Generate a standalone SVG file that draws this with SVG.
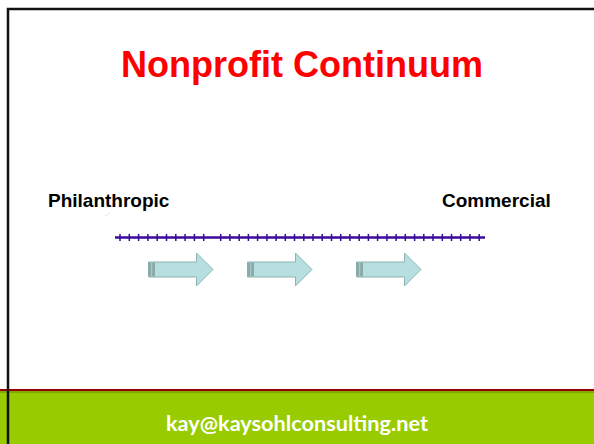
<svg xmlns="http://www.w3.org/2000/svg" width="594" height="444" viewBox="0 0 594 444">
  <style>
    .title { font-family: "Liberation Sans", Arial, sans-serif; font-weight: bold; font-size: 36px; fill: #ff0000; }
    .end { font-family: "Liberation Sans", Arial, sans-serif; font-weight: bold; font-size: 19px; fill: #000000; }
    .footer { font-family: Lato, "Open Sans", sans-serif; font-weight: bold; font-size: 21px; fill: #ffffff; }
    .step { fill: #b8dfe0; stroke: #8fb2b2; stroke-width: 1; }
    .stepTail { fill: #8aa9a9; }
    .tick { stroke: #3a0a9a; stroke-width: 1.5; }
  </style>
  <defs>
    <!-- block arrow pointing right, origin at the left end of the shaft centre -->
    <g id="blockArrow">
      <path class="step" d="M0.5,-7.5 H48.5 V-16.5 L65,0 L48.5,16.5 V7.5 H0.5 Z"/>
      <rect class="stepTail" x="0.5" y="-7" width="6.5" height="14"/>
      <rect x="3" y="-7" width="1.2" height="14" fill="#a9c6c6"/>
    </g>
  </defs>

  <rect width="594" height="444" fill="#ffffff"/>

  <!-- footer band -->
  <rect x="0" y="389" width="594" height="55" fill="#99cc00"/>
  <rect x="0" y="389" width="594" height="2" fill="#9a0000"/>
  <rect x="0" y="391" width="594" height="2" fill="#7faa00"/>

  <!-- frame -->
  <path d="M8,444 V9 H594" fill="none" stroke="#111111" stroke-width="2.5"/>

  <g id="title">
    <text class="title" x="302" y="77" text-anchor="middle">Nonprofit Continuum</text>
  </g>

  <g id="philanthropic">
    <text class="end" x="48" y="207">Philanthropic</text>
  </g>
  <g id="commercial">
    <text class="end" x="442" y="207">Commercial</text>
  </g>

  <line x1="105" y1="216" x2="110" y2="213" stroke="#cde8ee" stroke-width="0.8"/>

  <g id="connectors">
    <!-- continuum scale -->
    <line x1="115" y1="237.5" x2="485" y2="237.5" stroke="#3a0a9a" stroke-width="2.5"/>
    <g id="ticks">
      <line class="tick" x1="120" y1="234" x2="120" y2="241"/>
      <line class="tick" x1="129.3" y1="234" x2="129.3" y2="241"/>
      <line class="tick" x1="138.6" y1="234" x2="138.6" y2="241"/>
      <line class="tick" x1="147.9" y1="234" x2="147.9" y2="241"/>
      <line class="tick" x1="157.2" y1="234" x2="157.2" y2="241"/>
      <line class="tick" x1="166.5" y1="234" x2="166.5" y2="241"/>
      <line class="tick" x1="175.8" y1="234" x2="175.8" y2="241"/>
      <line class="tick" x1="185.1" y1="234" x2="185.1" y2="241"/>
      <line class="tick" x1="194.4" y1="234" x2="194.4" y2="241"/>
      <line class="tick" x1="203.7" y1="234" x2="203.7" y2="241"/>
      <line class="tick" x1="220.7" y1="234" x2="220.7" y2="241"/>
      <line class="tick" x1="229.9" y1="234" x2="229.9" y2="241"/>
      <line class="tick" x1="239.2" y1="234" x2="239.2" y2="241"/>
      <line class="tick" x1="248.4" y1="234" x2="248.4" y2="241"/>
      <line class="tick" x1="257.6" y1="234" x2="257.6" y2="241"/>
      <line class="tick" x1="266.9" y1="234" x2="266.9" y2="241"/>
      <line class="tick" x1="276.1" y1="234" x2="276.1" y2="241"/>
      <line class="tick" x1="285.3" y1="234" x2="285.3" y2="241"/>
      <line class="tick" x1="294.5" y1="234" x2="294.5" y2="241"/>
      <line class="tick" x1="303.8" y1="234" x2="303.8" y2="241"/>
      <line class="tick" x1="313" y1="234" x2="313" y2="241"/>
      <line class="tick" x1="322.2" y1="234" x2="322.2" y2="241"/>
      <line class="tick" x1="331.5" y1="234" x2="331.5" y2="241"/>
      <line class="tick" x1="340.7" y1="234" x2="340.7" y2="241"/>
      <line class="tick" x1="349.9" y1="234" x2="349.9" y2="241"/>
      <line class="tick" x1="359.2" y1="234" x2="359.2" y2="241"/>
      <line class="tick" x1="368.4" y1="234" x2="368.4" y2="241"/>
      <line class="tick" x1="377.6" y1="234" x2="377.6" y2="241"/>
      <line class="tick" x1="386.9" y1="234" x2="386.9" y2="241"/>
      <line class="tick" x1="396.1" y1="234" x2="396.1" y2="241"/>
      <line class="tick" x1="405.3" y1="234" x2="405.3" y2="241"/>
      <line class="tick" x1="414.6" y1="234" x2="414.6" y2="241"/>
      <line class="tick" x1="423.8" y1="234" x2="423.8" y2="241"/>
      <line class="tick" x1="433" y1="234" x2="433" y2="241"/>
      <line class="tick" x1="442.3" y1="234" x2="442.3" y2="241"/>
      <line class="tick" x1="451.5" y1="234" x2="451.5" y2="241"/>
      <line class="tick" x1="460.7" y1="234" x2="460.7" y2="241"/>
      <line class="tick" x1="470" y1="234" x2="470" y2="241"/>
      <line class="tick" x1="479.2" y1="234" x2="479.2" y2="241"/>
    </g>
  </g>

  <g id="step1"><use href="#blockArrow" x="148" y="269.5"/></g>
  <g id="step2"><use href="#blockArrow" x="247" y="269.5"/></g>
  <g id="step3"><use href="#blockArrow" x="356" y="269.5"/></g>

  <g id="contact">
    <text class="footer" x="297" y="431" text-anchor="middle" textLength="262" lengthAdjust="spacingAndGlyphs">kay@kaysohlconsulting.net</text>
  </g>
</svg>
